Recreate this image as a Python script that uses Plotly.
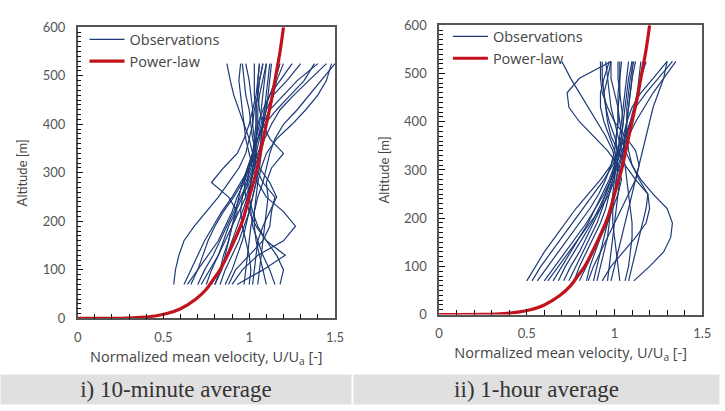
import plotly.graph_objects as go

# ---------------- data ----------------
heights = [70, 100, 130, 160, 190, 220, 250, 280, 310, 340, 370, 400, 430, 460, 490, 525]

obs_10min = [
    [0.56, 0.57, 0.59, 0.62, 0.68, 0.75, 0.82, 0.88, 0.94, 0.98, 1.00, 1.02, 1.03, 1.05, 1.06, 1.08],
    [0.62, 0.66, 0.70, 0.74, 0.79, 0.84, 0.90, 0.95, 1.00, 1.03, 1.05, 1.07, 1.09, 1.12, 1.15, 1.18],
    [0.64, 0.70, 0.76, 0.82, 0.86, 0.90, 0.93, 0.97, 1.00, 1.02, 1.03, 1.04, 1.04, 1.05, 1.05, 1.06],
    [0.70, 0.74, 0.79, 0.83, 0.87, 0.91, 0.95, 0.99, 1.02, 1.05, 1.08, 1.10, 1.12, 1.14, 1.16, 1.20],
    [0.75, 0.78, 0.82, 0.85, 0.88, 0.92, 0.96, 1.00, 1.03, 1.06, 1.09, 1.13, 1.18, 1.26, 1.35, 1.45],
    [0.78, 0.83, 0.87, 0.90, 0.93, 0.96, 0.99, 1.01, 1.03, 1.04, 1.04, 1.05, 1.05, 1.06, 1.08, 1.10],
    [0.80, 0.84, 0.86, 0.88, 0.90, 0.92, 0.94, 0.96, 0.99, 1.02, 1.05, 1.09, 1.16, 1.24, 1.32, 1.38],
    [0.83, 0.86, 0.90, 0.94, 0.97, 1.00, 1.02, 1.04, 1.05, 1.06, 1.07, 1.08, 1.09, 1.10, 1.11, 1.12],
    [0.86, 0.90, 0.93, 0.96, 0.98, 1.00, 1.02, 1.04, 1.06, 1.07, 1.07, 1.08, 1.10, 1.14, 1.22, 1.30],
    [0.88, 0.92, 1.00, 1.08, 1.12, 1.13, 1.15, 1.08, 1.04, 1.03, 1.03, 1.02, 1.02, 1.01, 1.00, 0.98],
    [0.90, 0.96, 1.05, 1.20, 1.27, 1.20, 1.10, 1.05, 1.02, 1.00, 0.98, 0.97, 0.96, 0.95, 0.94, 0.95],
    [0.93, 1.08, 1.21, 1.10, 1.04, 1.00, 0.98, 0.97, 0.99, 1.02, 1.05, 1.08, 1.12, 1.20, 1.28, 1.40],
    [0.97, 0.98, 0.99, 1.00, 1.01, 1.03, 1.05, 1.08, 1.10, 1.12, 1.15, 1.20, 1.28, 1.35, 1.42, 1.50],
    [1.00, 1.01, 1.00, 0.98, 0.96, 0.95, 0.96, 0.98, 1.01, 1.03, 1.04, 1.04, 1.04, 1.03, 1.03, 1.03],
    [1.02, 1.03, 1.04, 1.05, 1.08, 1.12, 1.16, 1.12, 1.06, 1.04, 1.02, 1.01, 1.00, 0.98, 0.97, 0.96],
    [1.05, 1.06, 1.07, 1.08, 1.09, 1.10, 1.11, 1.10, 1.13, 1.20, 1.12, 1.08, 1.06, 1.05, 1.06, 1.08],
    [1.10, 1.08, 1.06, 1.04, 1.03, 1.03, 1.04, 1.05, 1.07, 1.10, 1.16, 1.25, 1.33, 1.40, 1.45, 1.48],
    [1.15, 1.12, 1.08, 1.05, 1.02, 1.01, 1.00, 1.01, 1.02, 1.04, 1.06, 1.08, 1.10, 1.11, 1.12, 1.13],
    [0.80, 0.83, 0.85, 0.88, 0.90, 0.93, 0.88, 0.78, 0.85, 0.93, 0.97, 1.00, 1.02, 1.04, 1.05, 1.06],
    [0.72, 0.77, 0.82, 0.86, 0.90, 0.94, 0.98, 1.01, 1.03, 1.02, 1.00, 0.97, 0.94, 0.91, 0.89, 0.87],
    [0.66, 0.70, 0.73, 0.76, 0.80, 0.85, 0.91, 0.96, 1.00, 1.02, 1.04, 1.05, 1.08, 1.12, 1.18, 1.25],
    [1.18, 1.20, 1.16, 1.10, 1.05, 1.02, 1.00, 0.99, 1.00, 1.02, 1.04, 1.06, 1.07, 1.08, 1.09, 1.10],
]

obs_1hour = [
    [0.50, 0.55, 0.60, 0.66, 0.72, 0.78, 0.85, 0.92, 0.98, 1.02, 1.04, 1.05, 1.06, 1.07, 1.08, 1.10],
    [0.53, 0.58, 0.64, 0.70, 0.76, 0.82, 0.88, 0.94, 0.99, 1.03, 1.06, 1.09, 1.12, 1.18, 1.25, 1.33],
    [0.56, 0.62, 0.68, 0.74, 0.80, 0.86, 0.91, 0.95, 0.98, 1.00, 1.01, 1.02, 1.02, 1.03, 1.03, 1.04],
    [0.60, 0.66, 0.72, 0.78, 0.84, 0.89, 0.94, 0.98, 1.01, 1.03, 1.05, 1.07, 1.10, 1.15, 1.22, 1.30],
    [0.65, 0.70, 0.75, 0.80, 0.85, 0.89, 0.93, 0.97, 1.00, 1.02, 1.00, 0.97, 0.95, 0.94, 0.96, 0.98],
    [0.71, 0.75, 0.80, 0.84, 0.88, 0.92, 0.95, 0.98, 1.00, 1.02, 1.03, 1.04, 1.05, 1.06, 1.07, 1.08],
    [0.74, 0.78, 0.82, 0.86, 0.90, 0.93, 0.96, 0.99, 1.02, 1.05, 1.07, 1.09, 1.11, 1.13, 1.15, 1.18],
    [0.84, 0.86, 0.89, 0.92, 0.95, 0.98, 1.00, 1.01, 1.02, 1.00, 0.97, 0.94, 0.92, 0.92, 0.94, 0.97],
    [0.88, 0.90, 0.92, 0.94, 0.96, 0.98, 1.00, 1.02, 1.04, 1.06, 1.08, 1.10, 1.12, 1.13, 1.14, 1.15],
    [0.90, 0.92, 0.94, 0.96, 0.97, 0.98, 0.99, 1.00, 1.00, 1.01, 1.01, 1.02, 1.02, 1.02, 1.03, 1.03],
    [0.96, 0.97, 0.98, 0.99, 1.00, 1.01, 1.02, 1.03, 1.04, 1.05, 1.06, 1.07, 1.08, 1.09, 1.10, 1.10],
    [1.03, 1.02, 1.01, 1.00, 0.99, 0.99, 1.00, 1.01, 1.03, 1.05, 1.06, 1.07, 1.07, 1.08, 1.09, 1.11],
    [1.06, 1.08, 1.09, 1.10, 1.10, 1.09, 1.08, 1.07, 1.06, 1.04, 1.02, 1.00, 0.98, 0.97, 0.96, 0.95],
    [1.11, 1.20, 1.28, 1.32, 1.33, 1.30, 1.22, 1.15, 1.10, 1.06, 1.04, 1.03, 1.02, 1.00, 0.98, 0.98],
    [0.93, 0.98, 1.05, 1.12, 1.18, 1.20, 1.19, 1.12, 1.06, 1.02, 0.98, 0.96, 0.95, 0.94, 0.93, 0.93],
    [0.85, 0.88, 0.92, 0.96, 1.00, 1.04, 1.08, 1.12, 1.14, 1.12, 1.06, 1.00, 0.96, 0.93, 0.92, 0.92],
    [0.80, 0.84, 0.88, 0.92, 0.96, 0.99, 1.02, 1.04, 1.02, 0.96, 0.88, 0.80, 0.74, 0.73, 0.80, 0.98],
    [0.62, 0.68, 0.74, 0.80, 0.86, 0.92, 0.97, 1.00, 1.01, 0.99, 0.95, 0.90, 0.85, 0.80, 0.75, 0.70],
    [0.98, 1.00, 1.02, 1.04, 1.06, 1.08, 1.10, 1.12, 1.14, 1.16, 1.18, 1.20, 1.22, 1.25, 1.28, 1.30],
    [0.77, 0.80, 0.84, 0.88, 0.92, 0.95, 0.97, 0.99, 1.01, 1.03, 1.04, 1.05, 1.04, 1.03, 1.02, 1.02],
    [1.08, 1.10, 1.12, 1.14, 1.16, 1.18, 1.19, 1.14, 1.10, 1.08, 1.07, 1.07, 1.08, 1.09, 1.10, 1.12],
    [0.68, 0.72, 0.77, 0.82, 0.87, 0.91, 0.95, 0.98, 1.01, 1.04, 1.08, 1.12, 1.17, 1.22, 1.28, 1.35],
]

# power-law profile
pl_heights = [0, 0.3, 1, 2, 5, 10, 20, 40, 60, 80, 100, 150, 200, 250, 300, 350, 400, 450, 500, 550, 600]
pl_values = [0.0, 0.25, 0.32, 0.37, 0.45, 0.52, 0.60, 0.69, 0.75, 0.79, 0.83, 0.90, 0.96, 1.00, 1.04,
             1.07, 1.10, 1.13, 1.155, 1.18, 1.20]

x_ticks = [0, 0.5, 1, 1.5]
y_ticks = [0, 100, 200, 300, 400, 500, 600]
captions = ["i) 10-minute average", "ii) 1-hour average"]
x_title = "Normalized mean velocity, U/U<sub>a</sub> [-]"
y_title = "Altitude [m]"

# ---------------- figure ----------------
W, H = 725, 411
OBS_COLOR = "#1d3a78"
PL_COLOR = "#c3121c"
TXT = "#555555"
FONT = "Lato"
TFONT = "Open Sans"
TICKC = "#111111"

fig = go.Figure()

panels = [
    dict(data=obs_10min, xa="x", ya="y", legend="legend"),
    dict(data=obs_1hour, xa="x2", ya="y2", legend="legend2"),
]

for p in panels:
    for i, prof in enumerate(p["data"]):
        fig.add_trace(go.Scatter(
            x=prof, y=heights, mode="lines",
            line=dict(color=OBS_COLOR, width=1.2),
            name="Observations", showlegend=(i == 0),
            legend=p["legend"], xaxis=p["xa"], yaxis=p["ya"]))
    fig.add_trace(go.Scatter(
        x=pl_values, y=pl_heights, mode="lines",
        line=dict(color=PL_COLOR, width=3.2, shape="spline"),
        name="Power-law", showlegend=True,
        legend=p["legend"], xaxis=p["xa"], yaxis=p["ya"]))

def px_x(v):
    return v / W

def px_y(v):
    return 1 - v / H

x_axis_cfg = dict(
    range=[0, 1.5], dtick=x_ticks[1] - x_ticks[0],
    ticks="inside", ticklen=6, tickcolor=TICKC, tickwidth=1.4,
    minor=dict(dtick=0.1, ticks="inside", ticklen=5, tickcolor=TICKC, tickwidth=1.4),
    showline=True, mirror=True, linecolor="#555555", linewidth=1.5,
    showgrid=False, zeroline=False,
    tickfont=dict(family=FONT, size=13, color=TXT),
    ticklabelstandoff=6,
    title=dict(text=x_title, font=dict(family=TFONT, size=14.5, color="#444444"), standoff=8),
)
y_axis_cfg = dict(
    range=[0, 600], dtick=y_ticks[1] - y_ticks[0],
    ticks="inside", ticklen=6, tickcolor=TICKC, tickwidth=1.4,
    minor=dict(dtick=10, ticks="inside", ticklen=4, tickcolor=TICKC, tickwidth=1.2),
    showline=True, mirror=True, linecolor="#555555", linewidth=1.5,
    showgrid=False, zeroline=False,
    tickfont=dict(family=FONT, size=13, color=TXT),
    ticklabelstandoff=8,
    title=dict(text=y_title, font=dict(family=FONT, size=13, color="#444444"), standoff=12),
)

fig.update_layout(
    width=W, height=H,
    margin=dict(l=0, r=0, t=0, b=0),
    plot_bgcolor="white",
    xaxis=dict(domain=[px_x(75), px_x(337)], anchor="y", **x_axis_cfg),
    yaxis=dict(domain=[px_y(323), px_y(20)], anchor="x", **y_axis_cfg),
    xaxis2=dict(domain=[px_x(443), px_x(711)], anchor="y2", **x_axis_cfg),
    yaxis2=dict(domain=[px_y(319), px_y(18)], anchor="x2", **y_axis_cfg),
    legend=dict(x=px_x(82), y=px_y(16), xanchor="left", yanchor="top",
                bgcolor="rgba(0,0,0,0)", font=dict(family=TFONT, size=14.5, color="#444444"),
                tracegroupgap=0, itemwidth=35),
    legend2=dict(x=px_x(452), y=px_y(13), xanchor="left", yanchor="top",
                 bgcolor="rgba(0,0,0,0)", font=dict(family=TFONT, size=14.5, color="#444444"),
                 tracegroupgap=0, itemwidth=35),
    showlegend=True,
    annotations=[
        dict(text=captions[0], xref="paper", yref="paper",
             x=px_x(175), y=px_y(397), xanchor="center", yanchor="middle",
             width=350, height=29, bgcolor="#e0e0e0", borderpad=0, align="center",
             showarrow=False, font=dict(family="Liberation Serif", size=23, color="#333333")),
        dict(text=captions[1], xref="paper", yref="paper",
             x=px_x(542.5), y=px_y(397), xanchor="center", yanchor="middle",
             width=365, height=29, bgcolor="#e0e0e0", borderpad=0, align="center",
             showarrow=False, font=dict(family="Liberation Serif", size=23, color="#333333")),
    ],
)

fig.write_html("out.html")
